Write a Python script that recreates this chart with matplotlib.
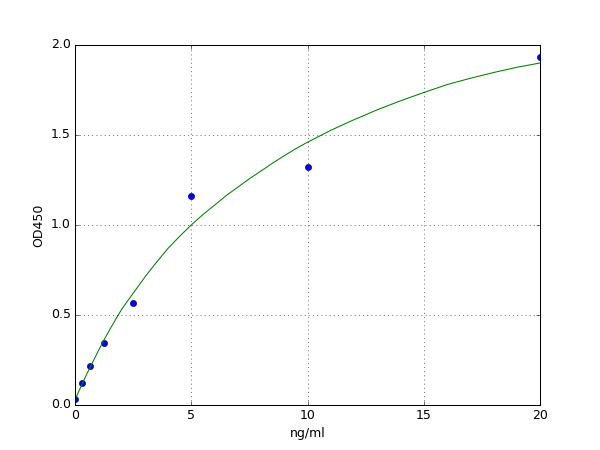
import matplotlib
matplotlib.use("Agg")
import matplotlib.pyplot as plt

plt.style.use("classic")

# measured standards
conc = [0, 0.3125, 0.625, 1.25, 2.5, 5, 10, 20]
od = [0.033, 0.12, 0.215, 0.344, 0.565, 1.163, 1.324, 1.935]

# fitted curve
curve_x = [0, 0.25, 0.5, 0.75, 1.0, 1.25, 1.5, 1.75, 2.0, 2.25, 2.5, 3, 3.5,
           4, 4.5, 5, 5.5, 6, 6.5, 7, 7.5, 8, 8.5, 9, 9.5, 10, 11, 12, 13,
           14, 15, 16, 17, 18, 19, 20]
curve_y = [0.03, 0.10, 0.17, 0.235, 0.30, 0.362, 0.42, 0.476, 0.53, 0.576,
           0.62, 0.71, 0.792, 0.87, 0.937, 1.00, 1.058, 1.11, 1.163, 1.21,
           1.257, 1.30, 1.344, 1.385, 1.424, 1.46, 1.526, 1.585, 1.64, 1.69,
           1.736, 1.78, 1.815, 1.847, 1.876, 1.90]

x_ticks = [0, 5, 10, 15, 20]
y_ticks = [0.0, 0.5, 1.0, 1.5, 2.0]

fig = plt.figure(figsize=(8, 6), dpi=75, facecolor="white")
ax = fig.add_subplot(111)
ax.plot(conc, od, "bo")
ax.plot(curve_x, curve_y, "g-")
ax.set_xlim(0, 20)
ax.set_ylim(0, 2)
ax.set_xticks(x_ticks)
ax.set_yticks(y_ticks)
ax.grid(True)
ax.set_xlabel("ng/ml")
ax.set_ylabel("OD450")
fig.savefig("out.png", dpi=75, facecolor="white")
